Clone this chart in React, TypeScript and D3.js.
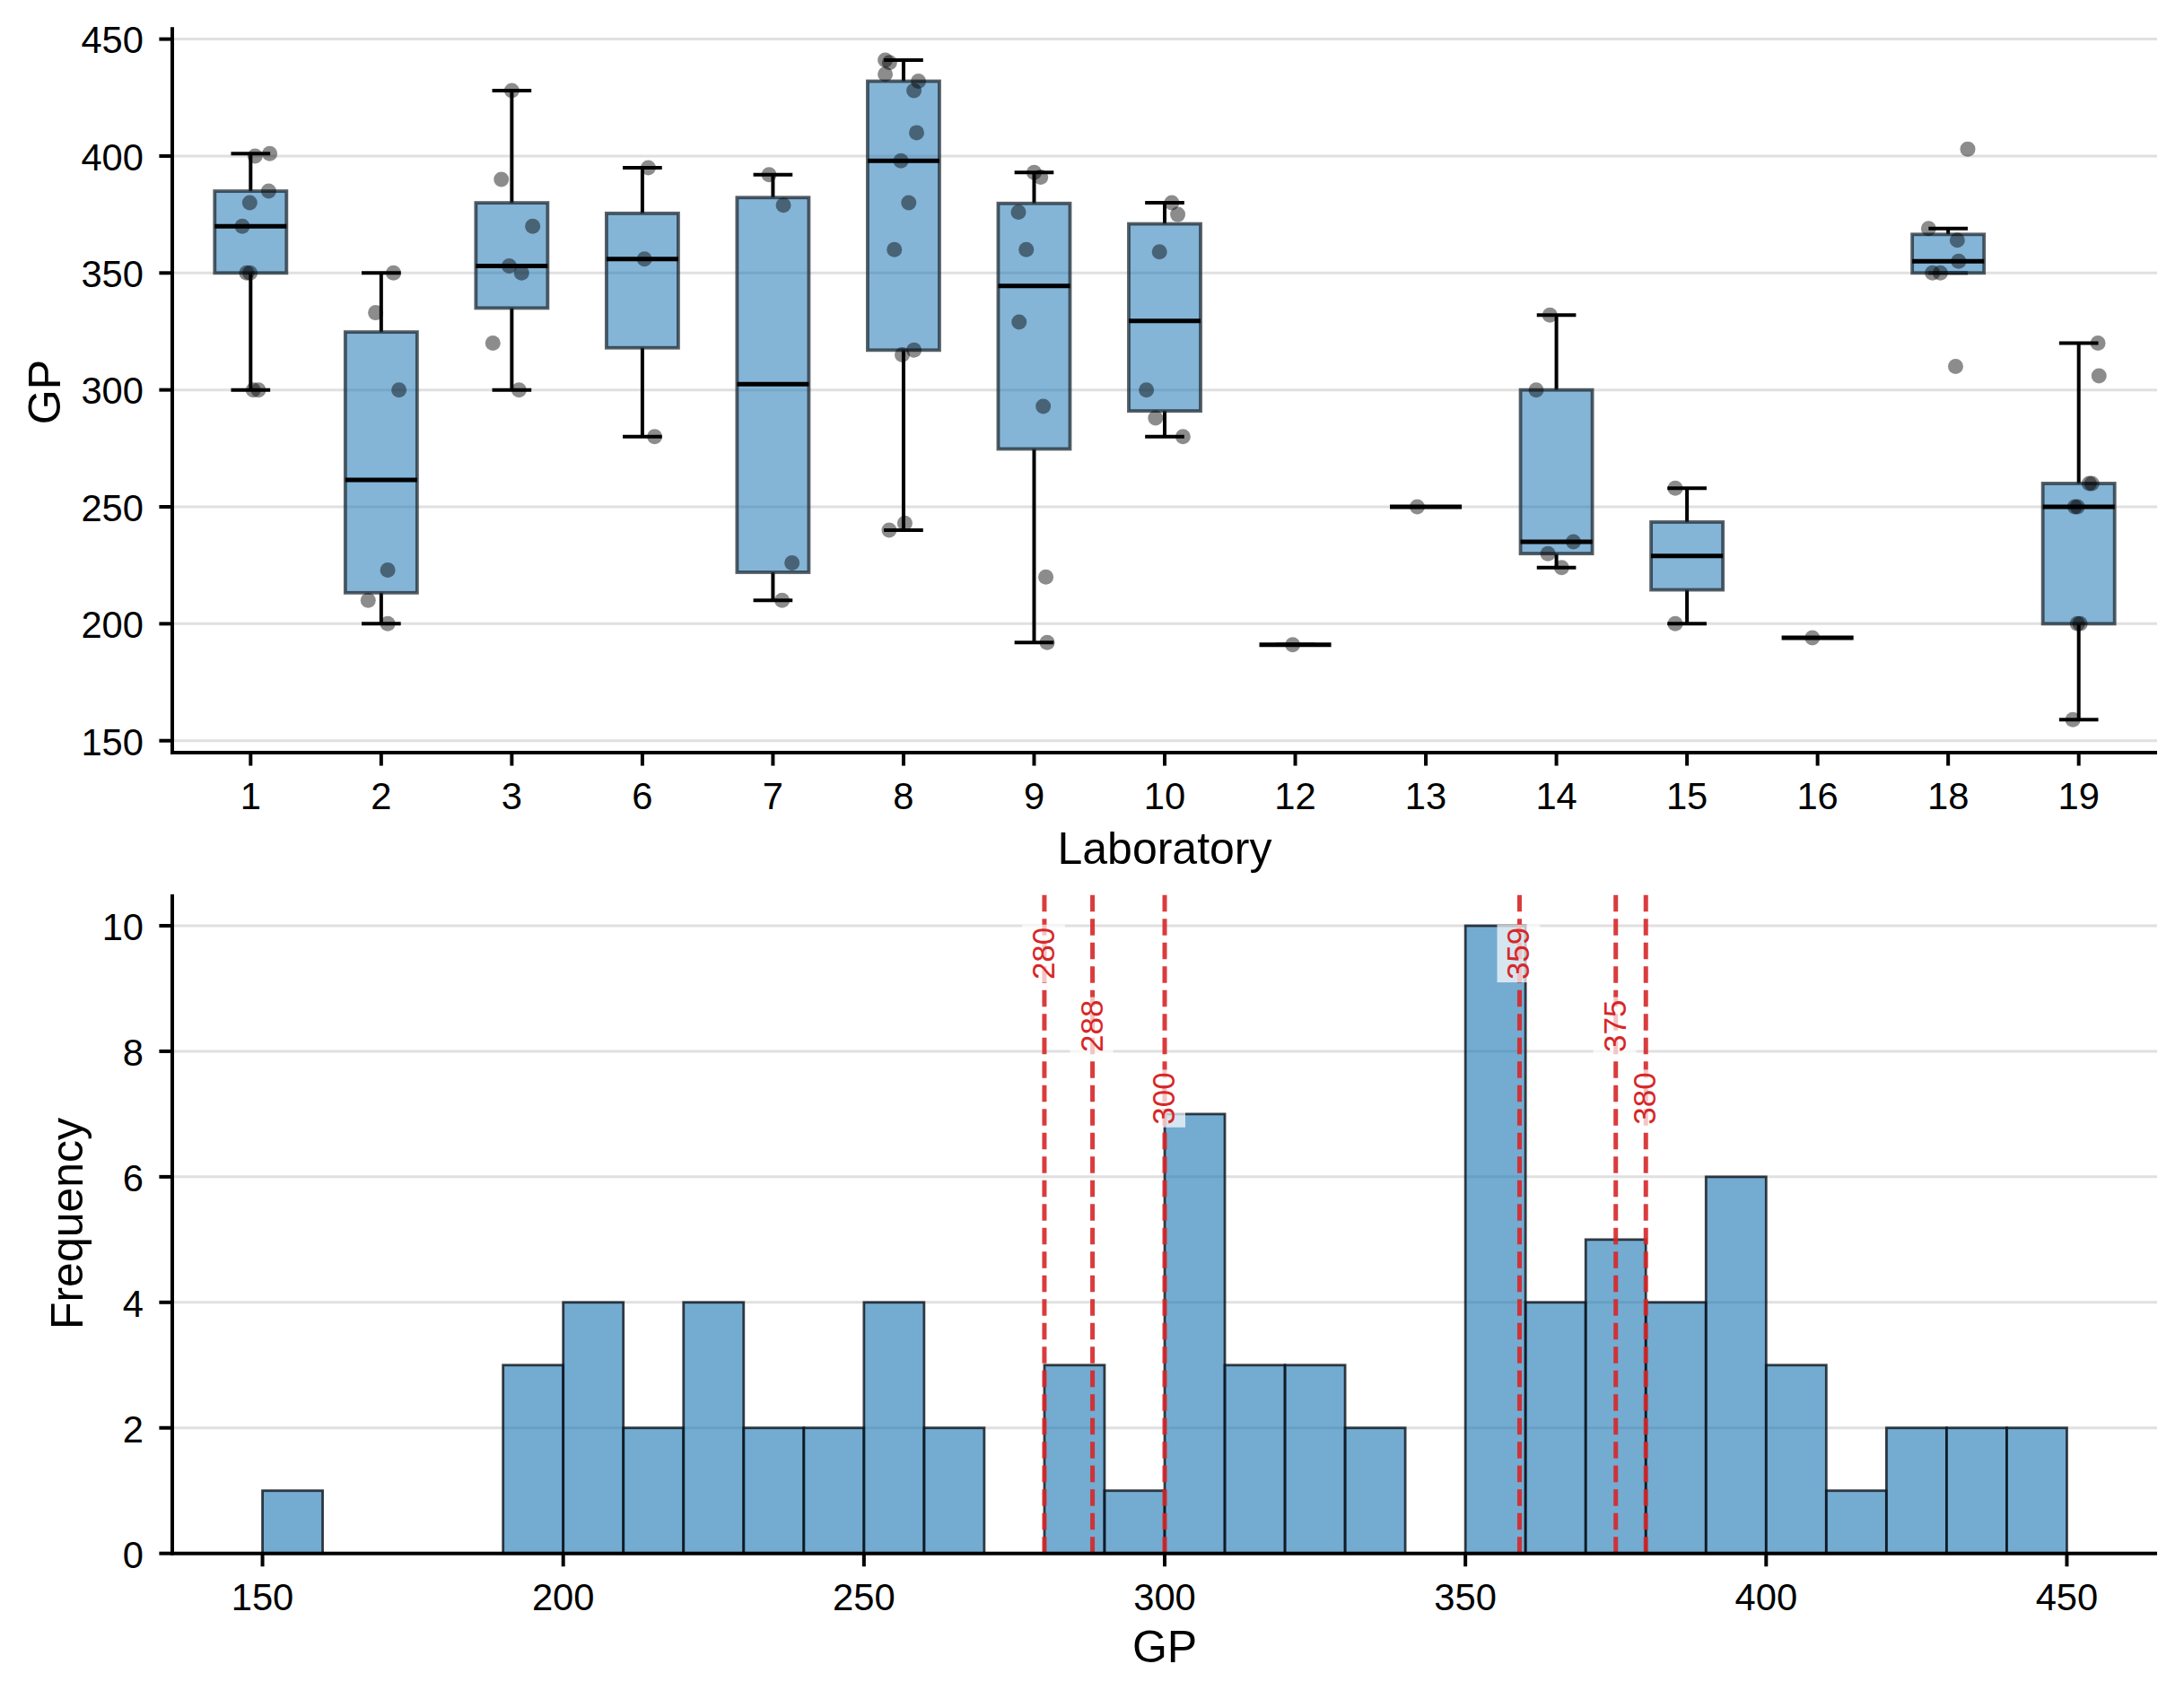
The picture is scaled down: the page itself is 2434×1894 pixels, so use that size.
import React from "react";
import * as d3 from "d3";

// Laboratories on the x axis of the box plot
const labs = ["1", "2", "3", "6", "7", "8", "9", "10", "12", "13", "14", "15", "16", "18", "19"];

// GP results per laboratory (same order as labs)
const gpByLab: number[][] = [
  [401, 400, 385, 380, 370, 350, 350, 300, 300],
  [350, 333, 300, 223, 210, 200],
  [428, 390, 370, 353, 350, 320, 300],
  [395, 356, 280],
  [392, 379, 226, 210],
  [441, 440, 435, 432, 428, 410, 398, 380, 360, 317, 315, 243, 240],
  [393, 391, 376, 360, 329, 293, 220, 192],
  [380, 375, 359, 300, 288, 280],
  [191],
  [250],
  [332, 300, 235, 230, 224],
  [258, 200],
  [194],
  [403, 369, 364, 355, 350, 350, 310],
  [320, 306, 260, 260, 250, 250, 200, 200, 159],
];

// strip-plot jitter (category units)
const jitterByLab: number[][] = [
  [0.146, 0.034, 0.138, -0.007, -0.064, -0.03, -0.005, 0.02, 0.06],
  [0.094, -0.043, 0.136, 0.05, -0.1, 0.05],
  [0.0, -0.08, 0.16, -0.02, 0.075, -0.145, 0.055],
  [0.045, 0.016, 0.094],
  [-0.03, 0.08, 0.146, 0.07],
  [-0.14, -0.107, -0.14, 0.114, 0.08, 0.1, -0.02, 0.04, -0.07, 0.08, -0.01, 0.01, -0.11],
  [0.0, 0.05, -0.12, -0.06, -0.115, 0.07, 0.09, 0.1],
  [0.054, 0.1, -0.04, -0.14, -0.07, 0.14],
  [-0.02],
  [-0.066],
  [-0.05, -0.155, 0.13, -0.065, 0.04],
  [-0.09, -0.09],
  [-0.04],
  [0.15, -0.15, 0.07, 0.08, -0.12, -0.06, 0.057],
  [0.147, 0.155, 0.08, 0.1, -0.03, -0.01, -0.01, 0.01, -0.045],
];

// reference lines on the histogram
const refValues = [280, 288, 300, 359, 375, 380];

const gpTicks = [150, 200, 250, 300, 350, 400, 450];
const histTicks = [150, 200, 250, 300, 350, 400, 450];
const freqTicks = [0, 2, 4, 6, 8, 10];

const W = 2434;
const H = 1894;
const FONT = "'Liberation Sans', Arial, Helvetica, sans-serif";
const TICK = 14.6;
const AX = 4;

export default function App() {
  // ---- top panel: box plot ----
  const xTop = d3.scaleLinear().domain([-0.6, labs.length - 0.4]).range([192, 2404]);
  const yTop = d3.scaleLinear().domain([144.9, 455.1]).range([839, 30.3]);
  const unit = xTop(1) - xTop(0);
  const boxHalf = 0.275 * unit;
  const capHalf = 0.15 * unit;

  const stats = gpByLab.map((vals) => {
    const s = [...vals].sort(d3.ascending);
    const q1 = d3.quantileSorted(s, 0.25)!;
    const med = d3.quantileSorted(s, 0.5)!;
    const q3 = d3.quantileSorted(s, 0.75)!;
    const iqr = q3 - q1;
    const lo = d3.min(s.filter((d) => d >= q1 - 1.5 * iqr))!;
    const hi = d3.max(s.filter((d) => d <= q3 + 1.5 * iqr))!;
    return { q1, med, q3, lo, hi };
  });

  // ---- bottom panel: histogram ----
  const allGP = gpByLab.flat();
  const bins = d3
    .bin()
    .domain([150, 450])
    .thresholds(d3.range(160, 450, 10))(allGP);
  const xBot = d3.scaleLinear().domain([135, 465]).range([192, 2404]);
  const yBot = d3.scaleLinear().domain([0, 10.5]).range([1731.7, 997]);
  const [botY0, botY1] = yBot.range();
  const labelFontSize = 35;
  const labelLen = 3 * 0.556 * labelFontSize;

  return (
    <svg
      width={W}
      height={H}
      viewBox={`0 0 ${W} ${H}`}
      style={{ position: "absolute", left: 0, top: 0, background: "#fff" }}
      fontFamily={FONT}
    >
      <rect width={W} height={H} fill="#fff" />

      {/* ===== Box plot ===== */}
      <g>
        {gpTicks.map((t) => (
          <line key={t} x1={xTop.range()[0]} x2={xTop.range()[1]} y1={yTop(t)} y2={yTop(t)} stroke="#e0e0e0" strokeWidth={3} />
        ))}

        {stats.map((s, i) => {
          const cx = xTop(i);
          return (
            <g key={labs[i]}>
              <line x1={cx} x2={cx} y1={yTop(s.q1)} y2={yTop(s.lo)} stroke="#000" strokeWidth={4} />
              <line x1={cx} x2={cx} y1={yTop(s.q3)} y2={yTop(s.hi)} stroke="#000" strokeWidth={4} />
              <line x1={cx - capHalf} x2={cx + capHalf} y1={yTop(s.lo)} y2={yTop(s.lo)} stroke="#000" strokeWidth={4} />
              <line x1={cx - capHalf} x2={cx + capHalf} y1={yTop(s.hi)} y2={yTop(s.hi)} stroke="#000" strokeWidth={4} />
              <rect
                x={cx - boxHalf}
                y={yTop(s.q3)}
                width={boxHalf * 2}
                height={yTop(s.q1) - yTop(s.q3)}
                fill="#1f77b4"
                fillOpacity={0.55}
                stroke="#1e2a33"
                strokeOpacity={0.75}
                strokeWidth={3.8}
              />
              <line x1={cx - boxHalf} x2={cx + boxHalf} y1={yTop(s.med)} y2={yTop(s.med)} stroke="#000" strokeWidth={5} />
            </g>
          );
        })}

        {gpByLab.map((vals, i) =>
          vals.map((v, j) => (
            <circle key={`${i}-${j}`} cx={xTop(i + jitterByLab[i][j])} cy={yTop(v)} r={8.5} fill="#000" fillOpacity={0.45} />
          ))
        )}

        {/* axes */}
        <line x1={xTop.range()[0]} x2={xTop.range()[0]} y1={yTop.range()[1]} y2={yTop.range()[0] + AX / 2} stroke="#000" strokeWidth={AX} />
        <line x1={xTop.range()[0] - AX / 2} x2={xTop.range()[1]} y1={yTop.range()[0]} y2={yTop.range()[0]} stroke="#000" strokeWidth={AX} />
        {gpTicks.map((t) => (
          <g key={t}>
            <line x1={xTop.range()[0] - TICK} x2={xTop.range()[0]} y1={yTop(t)} y2={yTop(t)} stroke="#000" strokeWidth={AX} />
            <text x={160} y={yTop(t)} dy="0.38em" textAnchor="end" fontSize={41.7}>
              {t}
            </text>
          </g>
        ))}
        {labs.map((l, i) => (
          <g key={l}>
            <line x1={xTop(i)} x2={xTop(i)} y1={yTop.range()[0]} y2={yTop.range()[0] + TICK} stroke="#000" strokeWidth={AX} />
            <text x={xTop(i)} y={yTop.range()[0] + 63} textAnchor="middle" fontSize={41.7}>
              {l}
            </text>
          </g>
        ))}
        <text x={1298} y={963} textAnchor="middle" fontSize={50}>
          Laboratory
        </text>
        <text transform={`translate(67,437) rotate(-90)`} textAnchor="middle" fontSize={50}>
          GP
        </text>
      </g>

      {/* ===== Histogram ===== */}
      <g>
        {freqTicks.map((t) => (
          <line key={t} x1={xBot.range()[0]} x2={xBot.range()[1]} y1={yBot(t)} y2={yBot(t)} stroke="#e0e0e0" strokeWidth={3} />
        ))}

        {bins
          .filter((b) => b.length > 0)
          .map((b) => (
            <rect
              key={b.x0}
              x={xBot(b.x0!)}
              y={yBot(b.length)}
              width={xBot(b.x1!) - xBot(b.x0!)}
              height={yBot(0) - yBot(b.length)}
              fill="#1f77b4"
              fillOpacity={0.62}
              stroke="#0b1218"
              strokeOpacity={0.8}
              strokeWidth={2.8}
            />
          ))}

        {refValues.map((v) => (
          <line
            key={v}
            x1={xBot(v)}
            x2={xBot(v)}
            y1={botY0}
            y2={botY1}
            stroke="#d62728"
            strokeOpacity={0.9}
            strokeWidth={5}
            strokeDasharray="18.5 8"
          />
        ))}

        {refValues.map((v, i) => {
          const frac = 0.95 - 0.11 * (i % 3);
          const top = botY0 - frac * (botY0 - botY1);
          const bx = xBot(v);
          return (
            <g key={v}>
              <rect x={bx - 25} y={top - 3} width={48} height={labelLen + 6} fill="#fff" fillOpacity={0.7} />
              <text
                transform={`translate(${bx + 11},${top + labelLen}) rotate(-90)`}
                textAnchor="start"
                fontSize={labelFontSize}
                fill="#d62728"
              >
                {v}
              </text>
            </g>
          );
        })}

        {/* axes */}
        <line x1={xBot.range()[0]} x2={xBot.range()[0]} y1={botY1} y2={botY0 + AX / 2} stroke="#000" strokeWidth={AX} />
        <line x1={xBot.range()[0] - AX / 2} x2={xBot.range()[1]} y1={botY0} y2={botY0} stroke="#000" strokeWidth={AX} />
        {freqTicks.map((t) => (
          <g key={t}>
            <line x1={xBot.range()[0] - TICK} x2={xBot.range()[0]} y1={yBot(t)} y2={yBot(t)} stroke="#000" strokeWidth={AX} />
            <text x={160} y={yBot(t)} dy="0.38em" textAnchor="end" fontSize={41.7}>
              {t}
            </text>
          </g>
        ))}
        {histTicks.map((t) => (
          <g key={t}>
            <line x1={xBot(t)} x2={xBot(t)} y1={botY0} y2={botY0 + TICK} stroke="#000" strokeWidth={AX} />
            <text x={xBot(t)} y={botY0 + 63} textAnchor="middle" fontSize={41.7}>
              {t}
            </text>
          </g>
        ))}
        <text x={1298} y={1853} textAnchor="middle" fontSize={50}>
          GP
        </text>
        <text transform={`translate(92,1364) rotate(-90)`} textAnchor="middle" fontSize={50}>
          Frequency
        </text>
      </g>
    </svg>
  );
}
